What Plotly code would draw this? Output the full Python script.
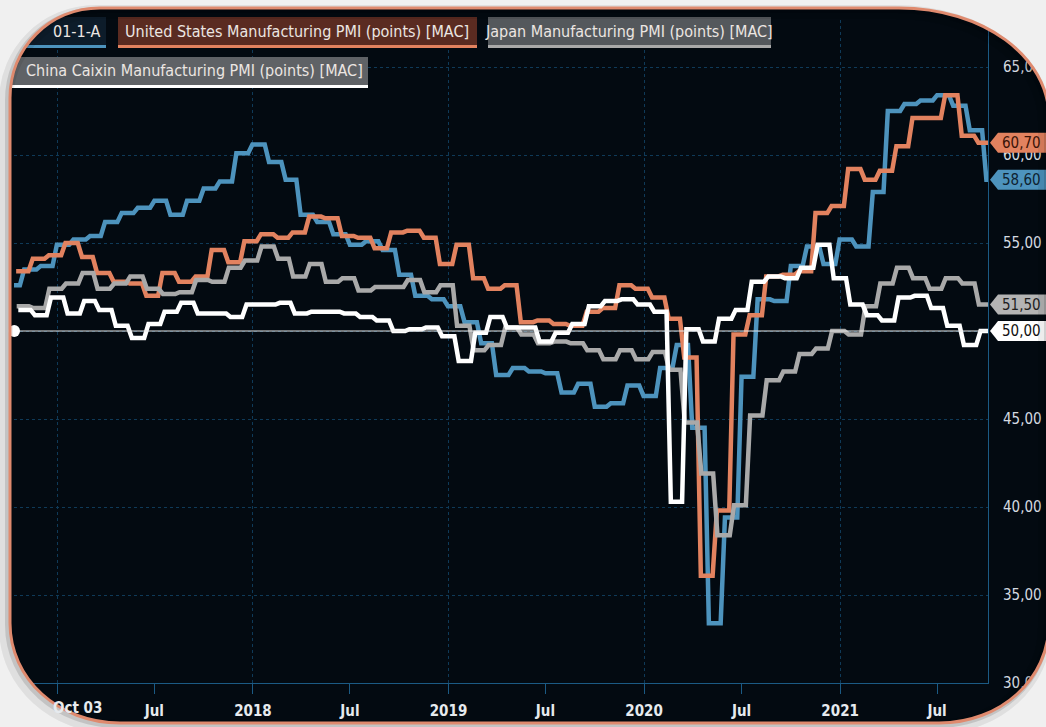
import pandas as pd
import plotly.graph_objects as go

# ---------------- data ----------------
months_ez = pd.date_range("2016-09-01", "2021-09-01", freq="MS")
months = pd.date_range("2016-10-01", "2021-09-01", freq="MS")

ez_pmi = [52.6, 53.5, 53.7, 54.9,
          55.2, 55.4, 56.2, 56.7, 57.0, 57.4, 56.6, 57.4, 58.1, 58.5, 60.1, 60.6,
          59.6, 58.6, 56.6, 56.2, 55.5, 54.9, 55.1, 54.6, 53.2, 52.0, 51.8, 51.4,
          50.5, 49.3, 47.5, 47.9, 47.7, 47.6, 46.5, 47.0, 45.7, 45.9, 46.9, 46.3,
          47.9, 49.2, 44.5, 33.4, 39.4, 47.4, 51.8, 51.7, 53.7, 54.8, 53.8, 55.2,
          54.8, 57.9, 62.5, 62.9, 63.1, 63.4, 62.8, 61.4, 58.6]

us_pmi = [53.4, 54.1, 54.3,
          55.0, 54.2, 53.3, 52.8, 52.7, 52.0, 53.3, 52.8, 53.1, 54.6, 53.9, 55.1,
          55.5, 55.3, 55.6, 56.5, 56.4, 55.4, 55.3, 54.7, 55.6, 55.7, 55.3, 53.8,
          54.9, 53.0, 52.4, 52.6, 50.5, 50.6, 50.4, 50.3, 51.1, 51.3, 52.6, 52.4,
          51.9, 50.7, 48.5, 36.1, 39.8, 49.8, 50.9, 53.1, 53.2, 53.4, 56.7, 57.1,
          59.2, 58.6, 59.1, 60.5, 62.1, 62.1, 63.4, 61.1, 60.7]

jp_pmi = [51.4, 51.3, 52.4,
          52.7, 53.3, 52.4, 52.7, 53.1, 52.4, 52.1, 52.2, 52.9, 52.8, 53.6, 54.0,
          54.8, 54.1, 53.1, 53.8, 52.8, 53.0, 52.3, 52.5, 52.5, 52.9, 52.2, 52.6,
          50.3, 48.9, 49.2, 50.2, 49.8, 49.3, 49.4, 49.3, 48.9, 48.4, 48.9, 48.4,
          48.8, 47.8, 44.8, 41.9, 38.4, 40.1, 45.2, 47.2, 47.7, 48.7, 49.0, 50.0,
          49.8, 51.4, 52.7, 53.6, 53.0, 52.4, 53.0, 52.7, 51.5]

cn_pmi = [51.2, 50.9, 51.9,
          51.0, 51.7, 51.2, 50.3, 49.6, 50.4, 51.1, 51.6, 51.0, 51.0, 50.8, 51.5,
          51.5, 51.6, 51.0, 51.1, 51.1, 51.0, 50.8, 50.6, 50.0, 50.1, 50.2, 49.7,
          48.3, 49.9, 50.8, 50.2, 50.2, 49.4, 49.9, 50.4, 51.4, 51.7, 51.8, 51.5,
          51.1, 40.3, 50.1, 49.4, 50.7, 51.2, 52.8, 53.1, 53.0, 53.6, 54.9, 53.0,
          51.5, 50.9, 50.6, 51.9, 52.0, 51.3, 50.3, 49.2, 50.0]

series_names = ["01-1-A",
                "United States Manufacturing PMI (points) [MAC]",
                "Japan Manufacturing PMI (points) [MAC]",
                "China Caixin Manufacturing PMI (points) [MAC]"]
# publication lag (days after start of reference month) as seen on the chart
series_lag = [30, 15, 16, 19]

x_tick_dates = ["2017-01-01", "2017-07-01", "2018-01-01", "2018-07-01", "2019-01-01",
                "2019-07-01", "2020-01-01", "2020-07-01", "2021-01-01", "2021-07-01"]
x_tick_text = ["", "Jul", "2018", "Jul", "2019", "Jul", "2020", "Jul", "2021", "Jul"]
first_tick_label = "Oct 03"
y_ticks = [30, 35, 40, 45, 50, 55, 60, 65]
ref_level = 50

x_start, x_end = "2016-10-12", "2021-10-04"

# ---------------- styling ----------------
FONT = "Liberation Sans Narrow, Arial Narrow, DejaVu Sans Condensed, sans-serif"
BLUE, ORANGE, GREY, WHITE = "#4d93bd", "#e2825f", "#a9a9a9", "#ffffff"
colors = [BLUE, ORANGE, GREY, WHITE]
BG_DARK = "#030a11"
OUTER = "#f0f0f0"
GRID = "#0f3a58"
AXIS = "#1b5a84"
BORDER = "#df8a6e"

W, H = 1046, 727
ML, MR, MT, MB = 14, 58, 20, 44
PW, PH = W - ML - MR, H - MT - MB


def PX(x):
    return (x - ML) / PW


def PY(y):
    return (H - MB - y) / PH


def step_xy(mons, vals, lag, end):
    xs, ys = [], []
    starts = [m + pd.Timedelta(days=lag) for m in mons]
    for i, v in enumerate(vals):
        s = starts[i]
        e = starts[i + 1] - pd.Timedelta(days=8) if i + 1 < len(vals) else pd.Timestamp(end)
        xs += [s, e]
        ys += [v, v]
    return xs, ys


fig = go.Figure()
all_data = [(months_ez, ez_pmi), (months, us_pmi), (months, jp_pmi), (months, cn_pmi)]
for (mons, vals), lag, col, name in zip(all_data, series_lag, colors, series_names):
    xs, ys = step_xy(mons, vals, lag, x_end)
    fig.add_trace(go.Scatter(x=xs, y=ys, mode="lines", name=name,
                             line=dict(color=col, width=4.5), hoverinfo="skip"))

# ---------------- frame geometry (pixels) ----------------
Lf, Rf, Tf, Bf = 10, 1049, 8, 723
r_tl, r_tr, r_br, r_bl = (90, 90), (150, 110), (110, 100), (110, 100)
K = 0.56


def P(x, y):
    return f"{PX(x):.5f},{PY(y):.5f}"


def frame_path(dx=0, dy=0):
    l, r, t, b = Lf + dx, Rf + dx, Tf + dy, Bf + dy
    s = f"M {P(l + r_tl[0], t)} L {P(r - r_tr[0], t)} "
    s += f"C {P(r - r_tr[0] + K * r_tr[0], t)} {P(r, t + r_tr[1] - K * r_tr[1])} {P(r, t + r_tr[1])} "
    s += f"L {P(r, b - r_br[1])} "
    s += f"C {P(r, b - r_br[1] + K * r_br[1])} {P(r - r_br[0] + K * r_br[0], b)} {P(r - r_br[0], b)} "
    s += f"L {P(l + r_bl[0], b)} "
    s += f"C {P(l + r_bl[0] - K * r_bl[0], b)} {P(l, b - r_bl[1] + K * r_bl[1])} {P(l, b - r_bl[1])} "
    s += f"L {P(l, t + r_tl[1])} "
    s += f"C {P(l, t + r_tl[1] - K * r_tl[1])} {P(l + r_tl[0] - K * r_tl[0], t)} {P(l + r_tl[0], t)} Z"
    return s


O = 30  # outside margin for masks
masks = [
    f"M {P(Lf - O, Tf - O)} L {P(Lf + r_tl[0], Tf - O)} L {P(Lf + r_tl[0], Tf)} "
    f"C {P(Lf + r_tl[0] - K * r_tl[0], Tf)} {P(Lf, Tf + r_tl[1] - K * r_tl[1])} {P(Lf, Tf + r_tl[1])} "
    f"L {P(Lf - O, Tf + r_tl[1])} Z",
    f"M {P(Rf + O, Tf - O)} L {P(Rf - r_tr[0], Tf - O)} L {P(Rf - r_tr[0], Tf)} "
    f"C {P(Rf - r_tr[0] + K * r_tr[0], Tf)} {P(Rf, Tf + r_tr[1] - K * r_tr[1])} {P(Rf, Tf + r_tr[1])} "
    f"L {P(Rf + O, Tf + r_tr[1])} Z",
    f"M {P(Rf + O, Bf + O)} L {P(Rf + O, Bf - r_br[1])} L {P(Rf, Bf - r_br[1])} "
    f"C {P(Rf, Bf - r_br[1] + K * r_br[1])} {P(Rf - r_br[0] + K * r_br[0], Bf)} {P(Rf - r_br[0], Bf)} "
    f"L {P(Rf - r_br[0], Bf + O)} Z",
    f"M {P(Lf - O, Bf + O)} L {P(Lf + r_bl[0], Bf + O)} L {P(Lf + r_bl[0], Bf)} "
    f"C {P(Lf + r_bl[0] - K * r_bl[0], Bf)} {P(Lf, Bf - r_bl[1] + K * r_bl[1])} {P(Lf, Bf - r_bl[1])} "
    f"L {P(Lf - O, Bf - r_bl[1])} Z",
]

shapes = []
shapes.append(dict(type="path", path=frame_path(), xref="paper", yref="paper",
                   fillcolor=BG_DARK, line=dict(width=0), layer="below"))
shapes.append(dict(type="line", xref="paper", x0=0, x1=1, yref="y", y0=ref_level, y1=ref_level,
                   line=dict(color="#e8e8e8", width=1.2), layer="above"))
shapes.append(dict(type="circle", xref="paper", xsizemode="pixel", xanchor=0, x0=-5.5, x1=6,
                   yref="y", ysizemode="pixel", yanchor=ref_level, y0=-6, y1=6,
                   fillcolor="#ffffff", line=dict(width=0), layer="above"))

leg_boxes = [  # x0, x1, y0, y1, bg, underline color
    (20, 106, 17, 48, "#0d1c2a", BLUE),
    (118, 477, 17, 48, "#5a2b21", ORANGE),
    (488, 771, 17, 48, "#54585c", GREY),
    (12, 368, 57, 88, "#5f6266", WHITE),
]
for x0, x1, y0, y1, bg, ul in leg_boxes:
    shapes.append(dict(type="rect", xref="paper", yref="paper", x0=PX(x0), x1=PX(x1),
                       y0=PY(y1), y1=PY(y0), fillcolor=bg, line=dict(width=0), layer="above"))
    shapes.append(dict(type="rect", xref="paper", yref="paper", x0=PX(x0), x1=PX(x1),
                       y0=PY(y1), y1=PY(y1 - 3), fillcolor=ul, line=dict(width=0), layer="above"))

tag_fills = [BLUE, ORANGE, "#b4b4b4", "#ffffff"]
tag_text_colors = ["#0e2230", "#3a1408", "#1e1e1e", "#101010"]
last_vals = [ez_pmi[-1], us_pmi[-1], jp_pmi[-1], cn_pmi[-1]]
tag_path = "M 2,0 L 10,10 L 80,10 L 80,-10 L 10,-10 Z"
for v, f in zip(last_vals, tag_fills):
    shapes.append(dict(type="path", path=tag_path, xref="paper", xsizemode="pixel", xanchor=1,
                       yref="y", ysizemode="pixel", yanchor=v, fillcolor=f,
                       line=dict(width=0), layer="above"))

for m in masks:
    shapes.append(dict(type="path", path=m, xref="paper", yref="paper",
                       fillcolor=OUTER, line=dict(width=0), layer="above"))
shapes.append(dict(type="path", path=frame_path(-4, 4), xref="paper", yref="paper",
                   line=dict(color="rgba(0,0,0,0.07)", width=14), layer="above"))
shapes.append(dict(type="path", path=frame_path(-2, 2), xref="paper", yref="paper",
                   line=dict(color="rgba(0,0,0,0.12)", width=6), layer="above"))
shapes.append(dict(type="path", path=frame_path(), xref="paper", yref="paper",
                   line=dict(color=BORDER, width=3), layer="above"))

annotations = []
leg_font = dict(family=FONT, size=16, color="#ece6e2")
annotations.append(dict(text=series_names[0], xref="paper", yref="paper", x=PX(103), y=PY(31),
                        xanchor="right", yanchor="middle", showarrow=False, font=leg_font))
annotations.append(dict(text=series_names[1], xref="paper", yref="paper", x=PX(297), y=PY(31),
                        xanchor="center", yanchor="middle", showarrow=False, font=leg_font))
annotations.append(dict(text=series_names[2], xref="paper", yref="paper", x=PX(629), y=PY(31),
                        xanchor="center", yanchor="middle", showarrow=False, font=leg_font))
annotations.append(dict(text=series_names[3], xref="paper", yref="paper", x=PX(365), y=PY(71),
                        xanchor="right", yanchor="middle", showarrow=False, font=leg_font))
for v, tc in zip(last_vals, tag_text_colors):
    annotations.append(dict(text=f"{v:.2f}".replace(".", ","), xref="paper", yref="y", x=1, y=v,
                            xanchor="left", yanchor="middle", xshift=12, showarrow=False,
                            font=dict(family=FONT, size=15, color=tc)))
annotations.append(dict(text=first_tick_label, xref="x", yref="paper", x=x_tick_dates[0], y=PY(708),
                        xanchor="left", yanchor="middle", xshift=-6, showarrow=False,
                        font=dict(family=FONT, size=15, color="#e6eaee", weight="bold")))

fig.update_layout(
    width=W, height=H,
    margin=dict(l=ML, r=MR, t=MT, b=MB, pad=0),
    paper_bgcolor=OUTER, plot_bgcolor="rgba(0,0,0,0)",
    showlegend=False, separators=", ",
    font=dict(family=FONT, color="#dfe5ea"),
    shapes=shapes, annotations=annotations,
    xaxis=dict(type="date", range=[x_start, x_end], tickvals=x_tick_dates, ticktext=x_tick_text,
               ticks="outside", ticklen=10, tickcolor=AXIS, tickwidth=1,
               showline=True, linecolor=AXIS, linewidth=1, showgrid=False, zeroline=False,
               automargin=False,
               tickfont=dict(family=FONT, size=15, color="#e6eaee", weight="bold"),
               minor=dict(dtick="M12", tick0="2017-01-01", showgrid=True, gridcolor=GRID,
                          griddash="dot", gridwidth=1, ticks=""),
               ticklabelstandoff=4),
    yaxis=dict(side="right", range=[30, 30 + PH / 17.6], tickvals=y_ticks, tickformat=".2f",
               showgrid=True, gridcolor=GRID, griddash="dot", gridwidth=1,
               showline=True, linecolor=AXIS, linewidth=1, ticks="", zeroline=False,
               automargin=False, ticklabelstandoff=11,
               tickfont=dict(family=FONT, size=15, color="#d5dbe0")),
)

fig.write_html("out.html", config={"displayModeBar": False},
               post_script="document.body.style.margin='0';document.body.style.padding='0';"
                           "document.documentElement.style.overflow='hidden';")
